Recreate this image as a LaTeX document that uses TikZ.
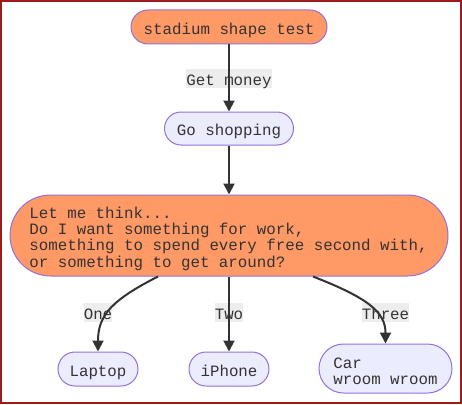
\documentclass[tikz,border=0pt]{standalone}
\usepackage{fontspec}
\setmonofont{Liberation Mono}
\usetikzlibrary{arrows.meta,calc}
\definecolor{orangefill}{HTML}{FF9966}
\definecolor{lavfill}{HTML}{ECECFF}
\definecolor{purpline}{HTML}{9370DB}
\definecolor{txt}{HTML}{333333}
\definecolor{framered}{HTML}{9B1B1B}
\definecolor{lblbg}{HTML}{EDEDED}
\tikzset{
  stad/.style={draw=purpline, line width=1pt, text=txt, inner sep=0pt,
    text height=14.5pt, text depth=0pt,
    font=\ttfamily\fontsize{15.8}{16.3}\selectfont},
  stadbox/.style={draw=purpline, line width=1pt, inner sep=0pt},
  multitext/.style={text=txt, inner sep=0pt, align=left,
    font=\ttfamily\fontsize{15.8}{16.3}\selectfont},
  lbl/.style={fill=lblbg, text=txt, inner sep=0pt, minimum height=19pt,
    text height=15pt, text depth=0pt,
    font=\ttfamily\fontsize{15.8}{16.3}\selectfont},
  edge/.style={draw=txt, line width=2pt, -{Triangle[length=11pt,width=11pt]}},
}
\begin{document}
\begin{tikzpicture}[x=1pt,y=-1pt]
\path[use as bounding box] (0,0) rectangle (462,404);
\draw[framered, line width=2.2pt] (1.1,1.1) rectangle (460.9,402.9);

% edge labels (behind edges)
\node[lbl] (lgm) at (229,78) {Get money};
\node[lbl] (lone) at (98,312) {One};
\node[lbl] (ltwo) at (229,312) {Two};
\node[lbl] (lthree) at (385.5,312) {Three};

% nodes
\node[stad, fill=orangefill, minimum width=196pt, minimum height=34pt, rounded corners=17pt] (top) at (229,27) {stadium shape test};
\node[stad, fill=lavfill, minimum width=129pt, minimum height=33pt, rounded corners=16.5pt] (shop) at (229,128.5) {Go shopping};
\node[stadbox, fill=orangefill, minimum width=438pt, minimum height=81pt, rounded corners=40.5pt] (big) at (229,235.5) {};
\node[multitext] (bigtext) at (228.5,238.5) {Let me think...\\Do I want something for work,\\something to spend every free second with,\\or something to get around?};
\node[stad, fill=lavfill, minimum width=80pt, minimum height=34pt, rounded corners=17pt] (laptop) at (98,369) {Laptop};
\node[stad, fill=lavfill, minimum width=80pt, minimum height=34pt, rounded corners=17pt] (iphone) at (229,369) {iPhone};
\node[stadbox, fill=lavfill, minimum width=133pt, minimum height=49pt, rounded corners=24.5pt] (car) at (385.5,368.5) {};
\node[multitext] (cartext) at (385.5,371) {Car\\wroom wroom};

% edges
\draw[edge] (top.south) -- (shop.north);
\draw[edge] (shop.south) -- (big.north);
\draw[edge] ($(big.south)+(-71,0)$) .. controls (112,300) and (98,315) .. (laptop.north);
\draw[edge] (big.south) -- (iphone.north);
\draw[edge] ($(big.south)+(84,0)$) .. controls (368,298) and (385.5,312) .. (car.north);
\end{tikzpicture}
\end{document}
